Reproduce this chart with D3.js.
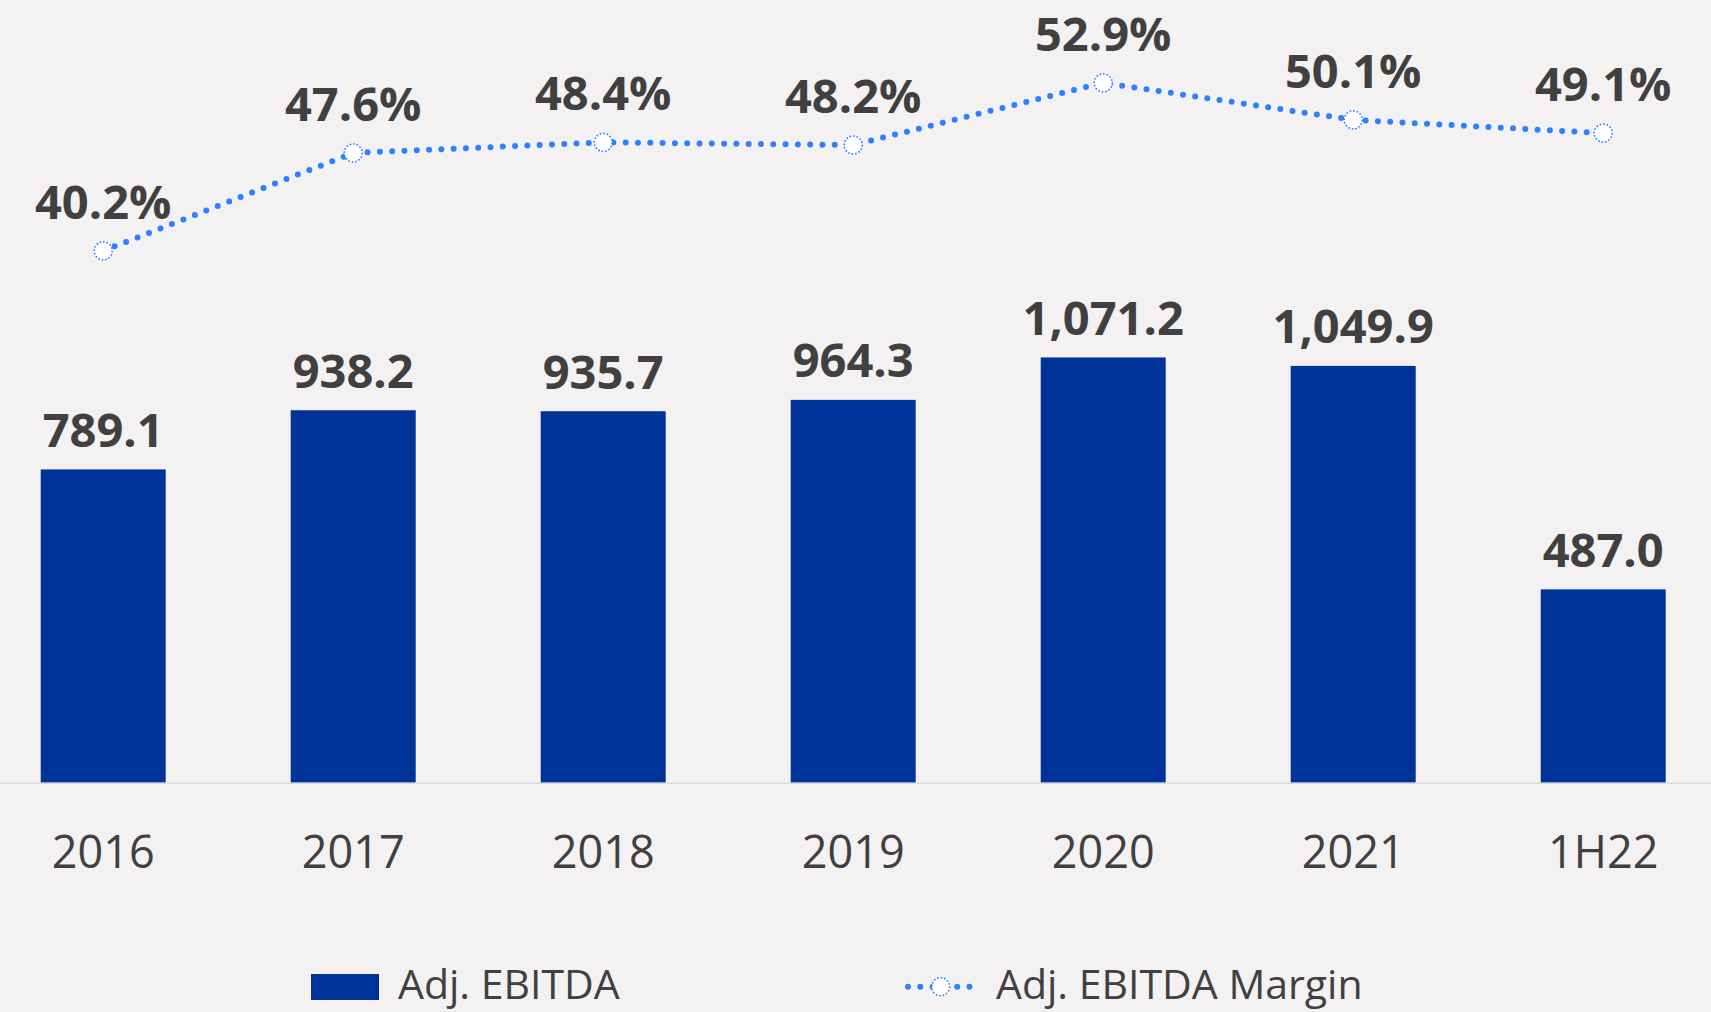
<!DOCTYPE html>
<html>
<head>
<meta charset="utf-8">
<script src="https://cdn.jsdelivr.net/npm/d3@7"></script>
<style>
  html, body { margin: 0; padding: 0; background: #f4f1f2; }
  svg { display: block; }
  text { font-family: "Open Sans", "Noto Sans", sans-serif; fill: #404040; }
</style>
</head>
<body>
<svg id="chart" width="1711" height="1012"></svg>
<script>
// Adj. EBITDA (bars) and Adj. EBITDA Margin (dotted line), 2016 – 1H22
const categories = ["2016", "2017", "2018", "2019", "2020", "2021", "1H22"];
const ebitda = [789.1, 938.2, 935.7, 964.3, 1071.2, 1049.9, 487.0];
const margin = [40.2, 47.6, 48.4, 48.2, 52.9, 50.1, 49.1];
const legendLabels = ["Adj. EBITDA", "Adj. EBITDA Margin"];

const W = 1711, H = 1012;
const baseY = 782.7;
const barColor = "#003399";
const lineColor = "#2f80ff";

const svg = d3.select("#chart");
svg.append("rect").attr("width", W).attr("height", H).attr("fill", "#f4f1f2");

const x = d3.scaleBand()
  .domain(categories)
  .range([40.7, 1665.7])
  .paddingInner(0.5)
  .paddingOuter(0);

const yBar = d3.scaleLinear().domain([0, 1000]).range([baseY, baseY - 397]);
const yPct = d3.scaleLinear().domain([0, 50]).range([baseY, baseY - 661.5]);

const rows = categories.map((c, i) => ({ c, v: ebitda[i], m: margin[i] }));

// bars
svg.append("g").selectAll("rect").data(rows).join("rect")
  .attr("x", d => x(d.c))
  .attr("width", x.bandwidth())
  .attr("y", d => yBar(d.v))
  .attr("height", d => baseY - yBar(d.v))
  .attr("fill", barColor);

// category axis baseline
svg.append("line")
  .attr("x1", 0).attr("x2", W)
  .attr("y1", baseY + 0.5).attr("y2", baseY + 0.5)
  .attr("stroke", "#d9d9d9").attr("stroke-width", 1.5);

// category labels
const xAxis = d3.axisBottom(x).tickSize(0).tickPadding(0);
const gx = svg.append("g").attr("transform", `translate(0,${baseY})`).call(xAxis);
gx.select(".domain").remove();
gx.selectAll("text")
  .attr("y", 85.6).attr("dy", null)
  .style("font-size", "45px")
  .style("font-family", "'Open Sans', 'Noto Sans', sans-serif")
  .attr("fill", "#404040");

// bar value labels
svg.append("g").selectAll("text").data(rows).join("text")
  .attr("x", d => x(d.c) + x.bandwidth() / 2)
  .attr("y", d => yBar(d.v) - 22.5)
  .attr("text-anchor", "middle")
  .style("font-size", "47px")
  .style("font-weight", "700")
  .text(d => d3.format(",.1f")(d.v));

// margin line (round dots)
const cx = d => x(d.c) + x.bandwidth() / 2;
const line = d3.line().x(cx).y(d => yPct(d.m));
svg.append("path")
  .datum(rows)
  .attr("d", line)
  .attr("fill", "none")
  .attr("stroke", lineColor)
  .attr("stroke-width", 6)
  .attr("stroke-linecap", "round")
  .attr("stroke-dasharray", "0 12.3");

// hollow markers with dotted rim
svg.append("g").selectAll("circle").data(rows).join("circle")
  .attr("cx", cx)
  .attr("cy", d => yPct(d.m))
  .attr("r", 9)
  .attr("fill", "#ffffff")
  .attr("stroke", lineColor)
  .attr("stroke-width", 1.6)
  .attr("stroke-dasharray", "1.6 1.9");

// margin labels
svg.append("g").selectAll("text").data(rows).join("text")
  .attr("x", cx)
  .attr("y", d => yPct(d.m) - 32)
  .attr("text-anchor", "middle")
  .style("font-size", "47px")
  .style("font-weight", "700")
  .text(d => d.m.toFixed(1) + "%");

// legend
const lg = svg.append("g");
lg.append("rect")
  .attr("x", 311).attr("y", 974).attr("width", 68).attr("height", 26)
  .attr("fill", barColor);
lg.append("text")
  .attr("x", 398).attr("y", 999.3)
  .style("font-size", "41px")
  .text(legendLabels[0]);

lg.append("line")
  .attr("x1", 908).attr("x2", 972)
  .attr("y1", 986.7).attr("y2", 986.7)
  .attr("stroke", lineColor)
  .attr("stroke-width", 6)
  .attr("stroke-linecap", "round")
  .attr("stroke-dasharray", "0 12.3");
lg.append("circle")
  .attr("cx", 940.7).attr("cy", 986.7).attr("r", 9)
  .attr("fill", "#ffffff")
  .attr("stroke", lineColor)
  .attr("stroke-width", 1.6)
  .attr("stroke-dasharray", "1.6 1.9");
lg.append("text")
  .attr("x", 996).attr("y", 999.3)
  .style("font-size", "41px")
  .text(legendLabels[1]);
</script>
</body>
</html>
